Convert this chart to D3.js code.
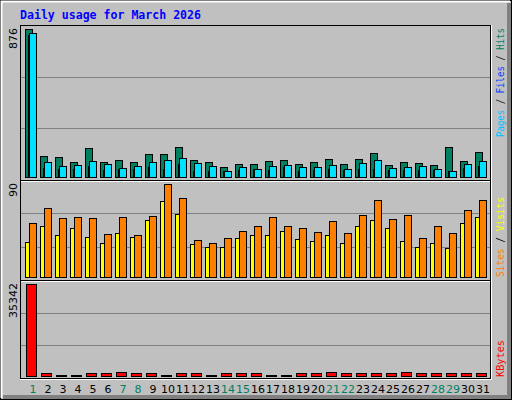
<!DOCTYPE html>
<html><head><meta charset="utf-8">
<script src="https://cdn.jsdelivr.net/npm/d3@7"></script>
<style>body{margin:0;background:#fff}svg{display:block}</style>
</head><body>
<script>
const days = d3.range(1, 32);
const weekend = [1,7,8,14,15,21,22,28,29];
const hits  = [876,123,117,91,170,91,103,91,135,135,176,103,91,61,79,79,97,103,79,91,109,79,109,145,73,91,85,73,180,97,150];
const files = [852,91,67,73,97,79,55,67,91,103,115,85,67,38,61,49,67,73,61,61,73,49,85,103,55,61,67,49,38,79,97];
const pages = [840,55,49,49,67,43,49,49,61,49,79,38,38,38,43,49,43,61,38,43,49,43,49,49,43,43,43,43,38,55,67];
const visits = [34,49,41,47,39,33,43,39,55,74,61,32,29,29,38,41,41,45,37,35,41,33,49,55,47,35,29,33,28,52,58];
const sites  = [52,67,57,58,57,42,58,41,59,90,76,36,33,38,45,49,58,49,47,44,54,43,60,75,56,60,38,49,43,65,75];
const kbytes = [35342,1030,500,500,1030,1030,1420,1030,1030,500,1030,1030,500,1030,1030,1030,500,500,1030,1030,1420,1030,1030,1030,1030,1420,1030,1030,1030,1030,1030];
const maxTicks = ["876","90","35342"];

const W=512,H=400;
const svg=d3.select("body").append("svg").attr("width",W).attr("height",H);
// frame
svg.append("rect").attr("x",0.5).attr("y",0.5).attr("width",W-1).attr("height",H-1).attr("fill","#c0c0c0").attr("stroke","#000");
svg.append("path").attr("d","M1.5,"+(H-2)+"V1.5H"+(W-2)).attr("stroke","#fff").attr("stroke-width",2).attr("fill","none");
svg.append("path").attr("d","M"+(W-3)+",3V"+(H-3)+"H3").attr("stroke","#808080").attr("stroke-width",4).attr("fill","none");

svg.append("text").attr("x",20).attr("y",19).text("Daily usage for March 2026")
  .attr("font-family","DejaVu Sans Mono").attr("font-weight","bold").attr("font-size",12)
  .attr("fill","#0000ff").attr("textLength",181).attr("lengthAdjust","spacingAndGlyphs");

const x=d3.scaleBand().domain(days).range([20,485]).paddingInner(0);
const panels=[{y0:25,y1:180,base:177,top:29,max:876},{y0:180,y1:280,base:277,top:184,max:90},{y0:280,y1:378,base:376,top:284,max:35342}];
panels.forEach((p,i)=>{
  const h=p.y1-p.y0;
  svg.append("rect").attr("x",20.5).attr("y",p.y0+0.5).attr("width",470).attr("height",h).attr("fill","#c0c0c0").attr("stroke","#000");
  [1,2].forEach(k=>svg.append("line").attr("x1",21).attr("x2",490).attr("y1",Math.round(p.y0+h*k/3)+0.5).attr("y2",Math.round(p.y0+h*k/3)+0.5).attr("stroke","#808080"));
  p.scale=d3.scaleLinear().domain([0,p.max]).range([p.base,p.top]);
  svg.append("text").attr("transform",`translate(17,${p.y0+3}) rotate(-90)`).attr("text-anchor","end")
    .attr("font-family","DejaVu Sans").attr("font-size",11).text(maxTicks[i]);
});
svg.append("path").attr("d","M491.5,25V379.5H20").attr("stroke","#fff").attr("fill","none");
svg.append("line").attr("x1",21).attr("x2",490).attr("y1",181.5).attr("y2",181.5).attr("stroke","#fff");
svg.append("line").attr("x1",21).attr("x2",490).attr("y1",281.5).attr("y2",281.5).attr("stroke","#fff");

function bars(data,panel,dx,w,color){
  const s=panels[panel].scale;
  svg.append("g").selectAll("rect").data(data).join("rect")
    .attr("x",(d,i)=>x(days[i])+dx+0.5).attr("y",d=>Math.round(s(d))+0.5)
    .attr("width",w).attr("height",d=>Math.max(1,panels[panel].base-Math.round(s(d))))
    .attr("fill",color).attr("stroke","#000");
}
bars(hits,0,5,7,"#008060");
bars(pages,0,8,3,"#0040ff");
bars(files,0,9,7,"#00e0ff");
bars(visits,1,5,4,"#ffff00");
bars(sites,1,9,7,"#ff8000");
bars(kbytes,2,6,10,"#ff0000");

svg.append("g").selectAll("text").data(days).join("text")
  .attr("x",d=>x(d)+13).attr("y",393).attr("text-anchor","middle")
  .attr("font-family","DejaVu Sans").attr("font-size",11)
  .attr("fill",d=>weekend.includes(d)?"#008060":"#000").text(d=>d);

function rlabel(parts,yb,len){
  const t=svg.append("text").attr("transform",`translate(504,${yb}) rotate(-90)`)
    .attr("font-family","DejaVu Sans Mono").attr("font-size",11)
    .attr("textLength",len).attr("lengthAdjust","spacingAndGlyphs");
  parts.forEach(([s,c])=>t.append("tspan").attr("fill",c).text(s));
}
rlabel([["Pages","#00c0ff"],[" / ","#000"],["Files","#0040ff"],[" / ","#000"],["Hits","#008060"]],137,109);
rlabel([["Sites","#ff8000"],[" / ","#000"],["Visits","#ffff00"]],277,80);
rlabel([["KBytes","#ff0000"]],377,37);
</script>
</body></html>
